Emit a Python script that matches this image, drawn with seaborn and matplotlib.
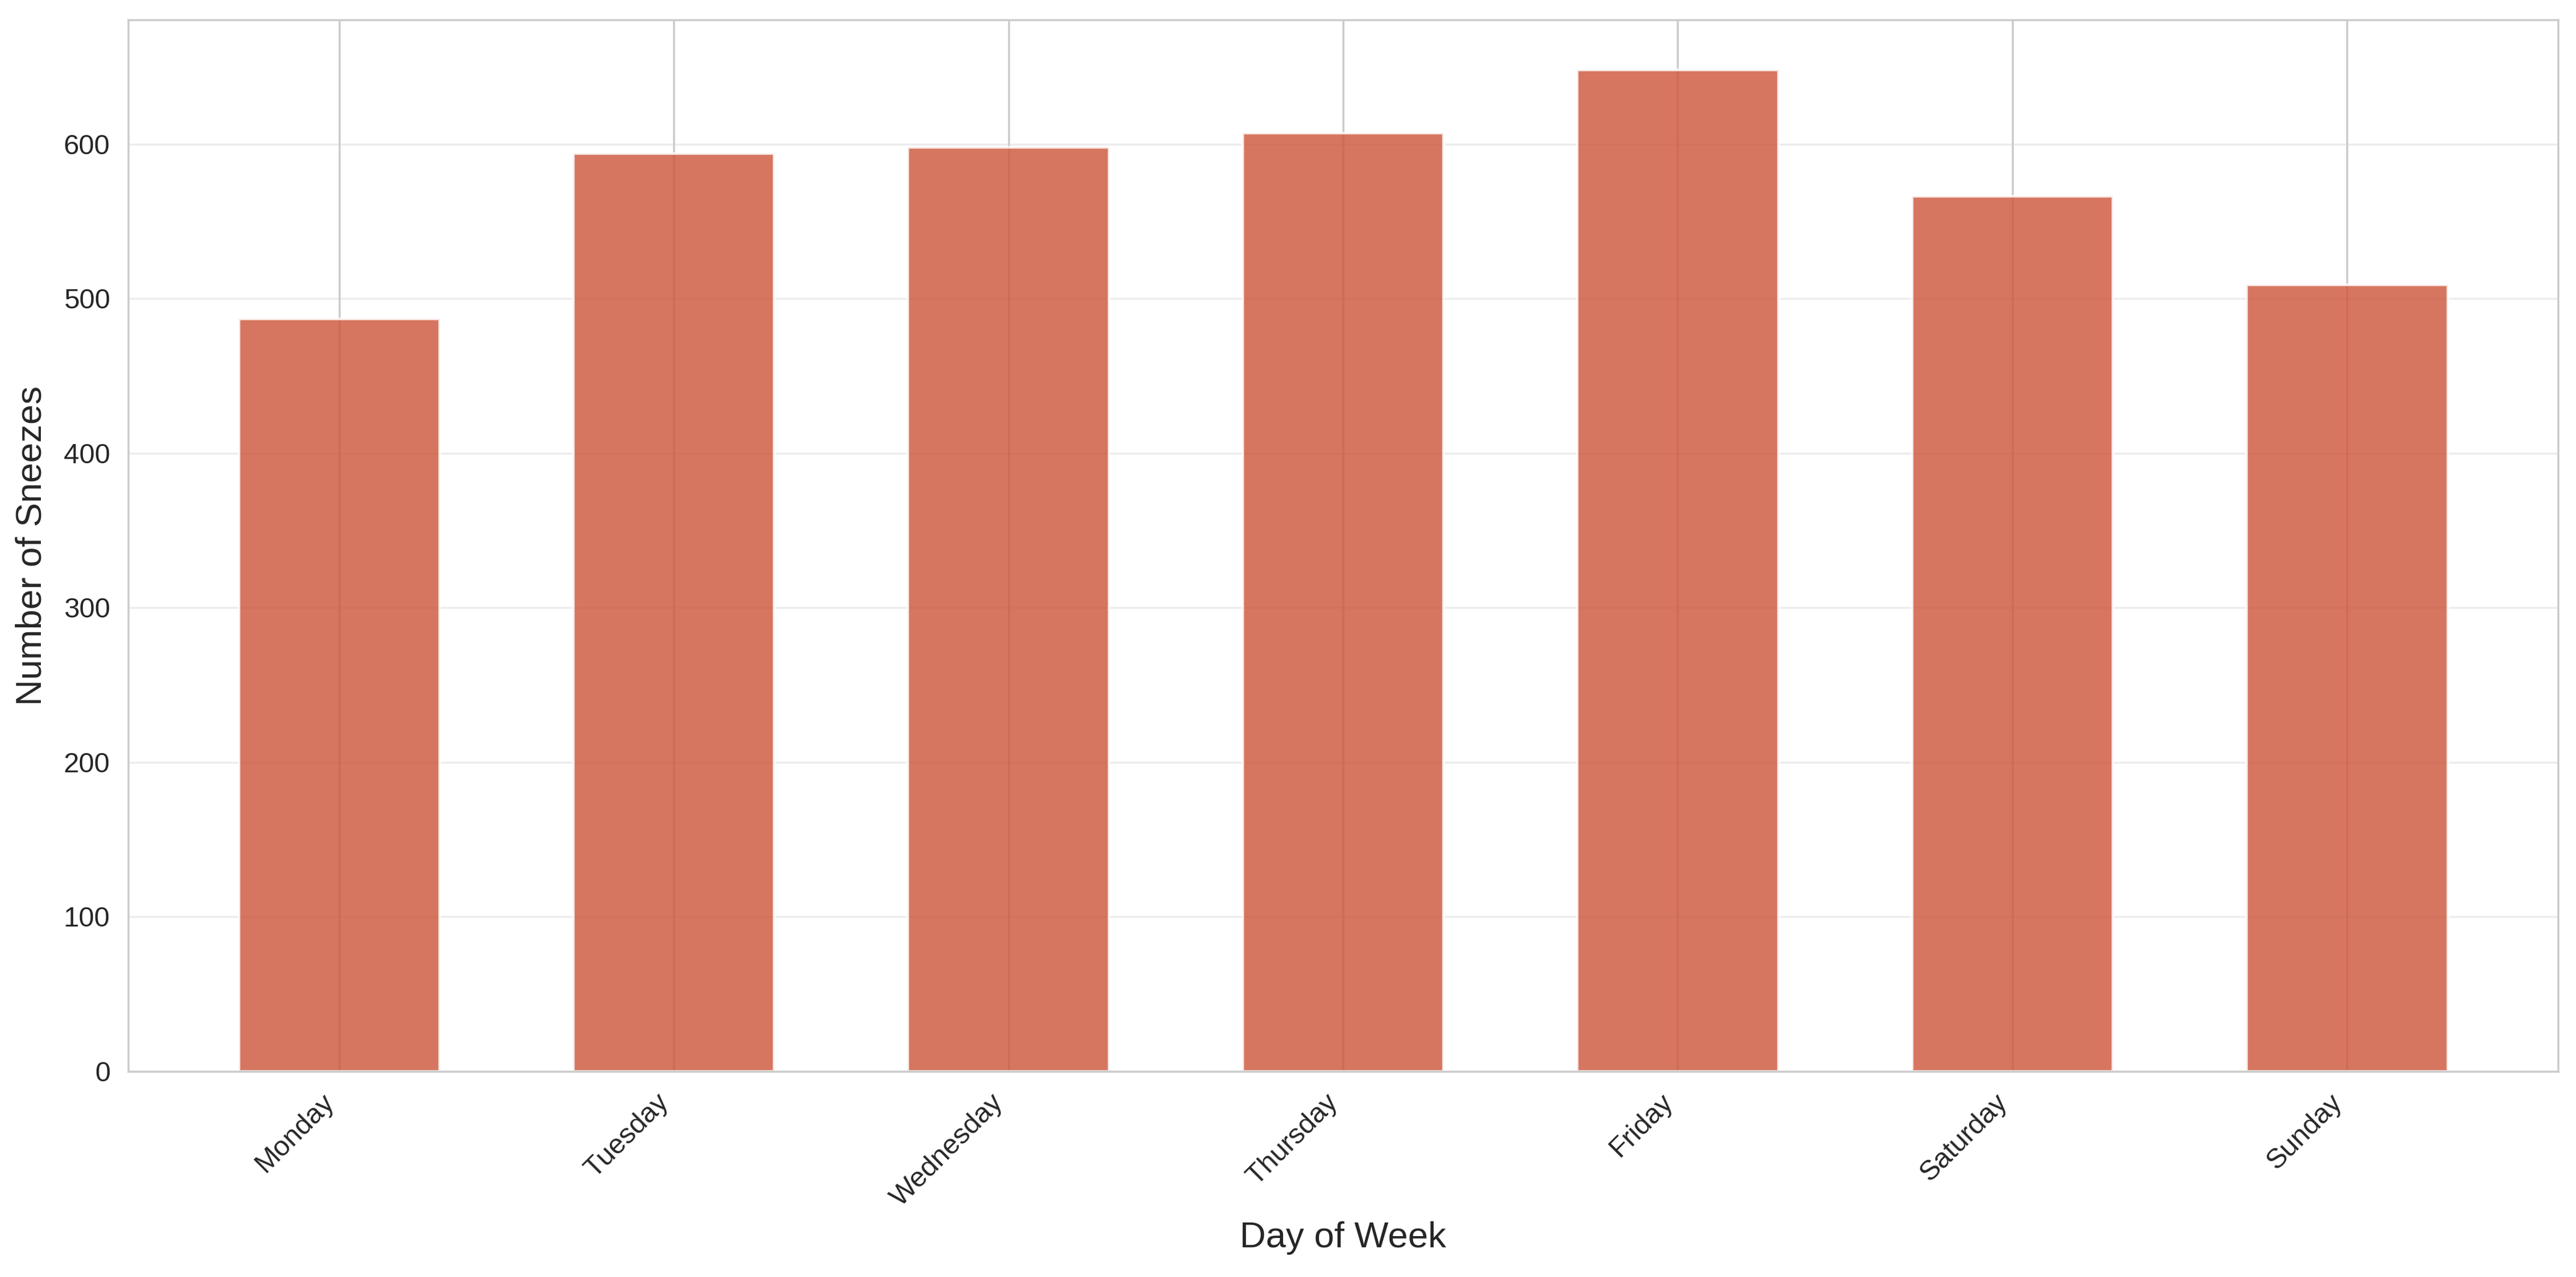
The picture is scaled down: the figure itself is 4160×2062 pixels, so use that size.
import matplotlib
matplotlib.use("Agg")
import matplotlib.pyplot as plt
import seaborn as sns
import pandas as pd

days = ["Monday", "Tuesday", "Wednesday", "Thursday", "Friday", "Saturday", "Sunday"]
sneezes = [487, 594, 598, 607, 648, 566, 509]

sns.set_style("whitegrid")
plt.rcParams["font.family"] = ["Liberation Sans", "DejaVu Sans"]

df = pd.DataFrame({"Day of Week": days, "Number of Sneezes": sneezes})

fig, ax = plt.subplots(figsize=(4160 / 300, 2062 / 300), dpi=300)
fig.subplots_adjust(left=0.0498, right=0.993, top=0.9845, bottom=0.161)

sns.barplot(data=df, x="Day of Week", y="Number of Sneezes", color="#CD5438",
            saturation=1, alpha=0.8, width=0.6, edgecolor="white", linewidth=1, ax=ax)

ax.set_xlim(-0.63, len(days) - 1 + 0.63)
ax.set_ylim(0, max(sneezes) * 1.05)
ax.grid(axis="y", alpha=0.35)
ax.grid(axis="x", alpha=1.0)
ax.set_axisbelow(True)

ax.set_xlabel("Day of Week", fontsize=14, labelpad=4)
ax.set_ylabel("Number of Sneezes", fontsize=14, labelpad=6)
plt.setp(ax.get_xticklabels(), rotation=45, ha="right", fontsize=10.8)
plt.setp(ax.get_yticklabels(), fontsize=10.8)

fig.savefig("out.png", dpi=300)
